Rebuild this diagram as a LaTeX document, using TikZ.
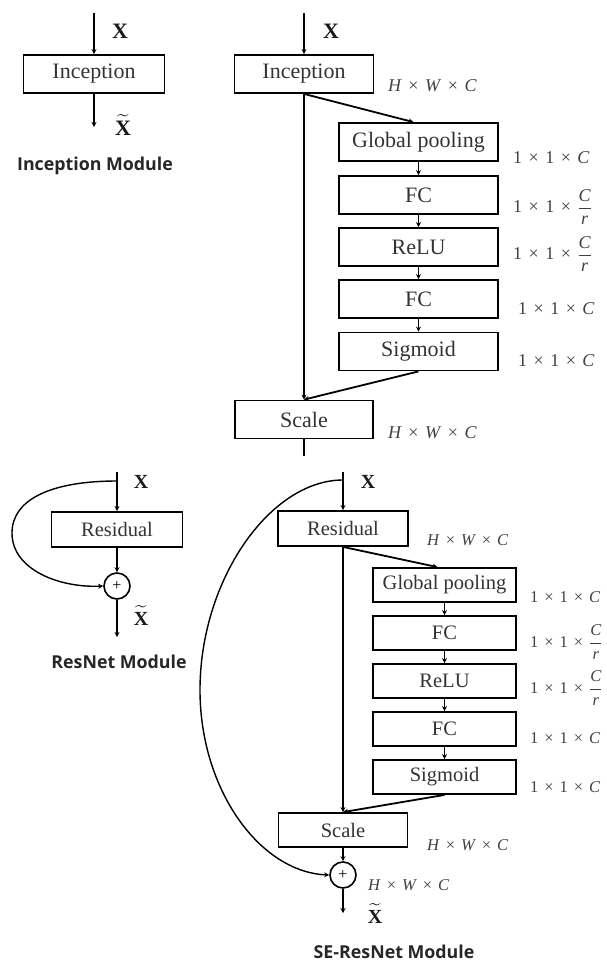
\documentclass[tikz,border=0pt]{standalone}
\usepackage{fontspec}
\usepackage{amsmath}
\setmainfont{Liberation Serif}
\newfontfamily\titlefont{Open Sans}
\usetikzlibrary{arrows.meta,calc}

% "×" with the spacing used in the shape labels
\newcommand{\dimcross}{\hspace{0.36em}×\hspace{0.36em}}
\newcommand{\hwc}{\textit{H}\dimcross\textit{W}\dimcross\textit{C}}
\newcommand{\onec}{1\dimcross1\dimcross\textit{C}}
\newcommand{\onecr}{1\dimcross1\dimcross$\dfrac{\text{\itshape C}}{\text{\itshape r}}$}
\newcommand{\xin}{\textbf{X}}
\newcommand{\xout}{$\widetilde{\text{\bfseries X}}$}

\begin{document}
\begin{tikzpicture}[x=1pt,y=-1pt,
  box/.style={draw, line width=1.8pt, inner sep=0pt, text=black!80},
  topbox/.style={box, minimum height=38pt, font=\fontsize{22}{22}\selectfont},
  botbox/.style={box, minimum height=34pt, font=\fontsize{20.5}{20.5}\selectfont},
  link/.style={line width=1.8pt, -{Stealth[length=5pt,width=5pt]}},
  plain/.style={line width=1.8pt},
  skip/.style={line width=1.4pt, -{Stealth[length=5pt,width=5pt]}},
  dimtop/.style={anchor=west, inner sep=0pt, text=black!75, font=\fontsize{18}{18}\selectfont},
  dimbot/.style={anchor=west, inner sep=0pt, text=black!75, font=\fontsize{16.5}{16.5}\selectfont},
  xlab/.style={anchor=base, inner sep=0pt, text=black!90, font=\fontsize{22}{22}\selectfont\bfseries},
  xlabsm/.style={xlab, font=\fontsize{20}{20}\selectfont\bfseries},
  modtitle/.style={inner sep=0pt, text=black!85, font=\titlefont\bfseries\fontsize{17.8}{17.8}\selectfont},
  add/.style={circle, draw, line width=1.6pt, minimum size=26pt, inner sep=0pt, font=\fontsize{16}{16}\selectfont}
]
\useasboundingbox (0,0) rectangle (606,964);

% ---------------- Inception module ----------------
\node[topbox, minimum width=141pt] (incA) at (94,74) {Inception};
\coordinate (incAin) at (94,13);
\coordinate (incAout) at (94,127);
\draw[link] (incAin) -- (incA);
\draw[link] (incA) -- (incAout);
\node[xlab] (incAx) at (120,38) {\xin};
\node[xlab] (incAy) at (123,135) {\xout};
\node[modtitle] (incAt) at (95,166) {Inception Module};

% ---------------- SE-Inception module ----------------
\node[topbox, minimum width=139pt] (incB) at (304,74) {Inception};
\node[topbox, minimum width=159pt] (gpB)  at (418.5,142) {Global pooling};
\node[topbox, minimum width=159pt] (fcB1) at (418.5,195) {FC};
\node[topbox, minimum width=159pt] (reB)  at (418.5,247) {ReLU};
\node[topbox, minimum width=159pt] (fcB2) at (418.5,299) {FC};
\node[topbox, minimum width=159pt] (sgB)  at (418.5,351.5) {Sigmoid};
\node[topbox, minimum width=138pt] (scB)  at (304,419.5) {Scale};
\coordinate (incBin) at (304,13);
\coordinate (scBout) at (304,456);

\draw[link] (incBin) -- (incB);
\draw[link] (incB.south) -- (scB.north);
\draw[link] (incB.south) -- ($(gpB.north)+(-5,0)$);
\draw[link] (gpB) -- (fcB1);
\draw[link] (fcB1) -- (reB);
\draw[link] (reB) -- (fcB2);
\draw[link] (fcB2) -- (sgB);
\draw[link] (sgB.south) -- (scB.north);
\draw[plain] (scB.south) -- (scBout);

\node[xlab] (incBx) at (331,38) {\xin};
\node[dimtop] (incBd) at (388,86) {\hwc};
\node[dimtop] (gpBd)  at (513,158) {\onec};
\node[dimtop] (fcB1d) at (513,207) {\onecr};
\node[dimtop] (reBd)  at (513,254) {\onecr};
\node[dimtop] (fcB2d) at (518,309) {\onec};
\node[dimtop] (sgBd)  at (518,361) {\onec};
\node[dimtop] (scBd)  at (388,433) {\hwc};

% ---------------- ResNet module ----------------
\node[botbox, minimum width=131pt, minimum height=35pt] (resC) at (117,529.5) {Residual};
\node[add] (addC) at (117,586) {+};
\coordinate (resCin) at (117,472);
\coordinate (resCsk) at (117,481);
\coordinate (resCout) at (117,637);
\draw[link] (resCin) -- (resC);
\draw[link] (resC) -- (addC);
\draw[link] (addC) -- (resCout);
\draw[skip] (resCsk) .. controls (50,481) and (12,500) .. (12,533)
                     .. controls (12,570) and (60,588) .. (addC.west);
\node[xlabsm] (resCx) at (141,488) {\xin};
\node[xlabsm] (resCy) at (141,625) {\xout};
\node[modtitle] (resCt) at (119,662) {ResNet Module};

% ---------------- SE-ResNet module ----------------
\node[botbox, minimum width=130pt, minimum height=35pt] (resD) at (343,528.5) {Residual};
\node[botbox, minimum width=143pt] (gpD)  at (444.5,585) {Global pooling};
\node[botbox, minimum width=143pt] (fcD1) at (444.5,633) {FC};
\node[botbox, minimum width=143pt] (reD)  at (444.5,681) {ReLU};
\node[botbox, minimum width=143pt] (fcD2) at (444.5,729) {FC};
\node[botbox, minimum width=143pt] (sgD)  at (444.5,777) {Sigmoid};
\node[botbox, minimum width=129pt] (scD)  at (343,830) {Scale};
\node[add] (addD) at (343,875) {+};
\coordinate (resDin) at (343,472);
\coordinate (resDsk) at (343,480);
\coordinate (resDout) at (343,913);

\draw[link] (resDin) -- (resD);
\draw[link] (resD.south) -- (scD.north);
\draw[link] (resD.south) -- ($(gpD.north)+(-7,0)$);
\draw[link] (gpD) -- (fcD1);
\draw[link] (fcD1) -- (reD);
\draw[link] (reD) -- (fcD2);
\draw[link] (fcD2) -- (sgD);
\draw[link] (sgD.south) -- (scD.north);
\draw[link] (scD) -- (addD);
\draw[link] (addD) -- (resDout);
\draw[skip] (resDsk) .. controls (270,480) and (200,580) .. (200,690)
                     .. controls (200,790) and (260,872) .. (addD.west);

\node[xlabsm] (resDx) at (368,488) {\xin};
\node[xlabsm] (resDy) at (375,923) {\xout};
\node[dimbot] (resDd) at (427,540) {\hwc};
\node[dimbot] (gpDd)  at (530,597) {\onec};
\node[dimbot] (fcD1d) at (530,642) {\onecr};
\node[dimbot] (reDd)  at (530,688) {\onecr};
\node[dimbot] (fcD2d) at (530,738) {\onec};
\node[dimbot] (sgDd)  at (530,787) {\onec};
\node[dimbot] (scDd)  at (427,845) {\hwc};
\node[dimbot] (addDd) at (368,885) {\hwc};
\node[modtitle] (resDt) at (394,952) {SE-ResNet Module};
\end{tikzpicture}
\end{document}
